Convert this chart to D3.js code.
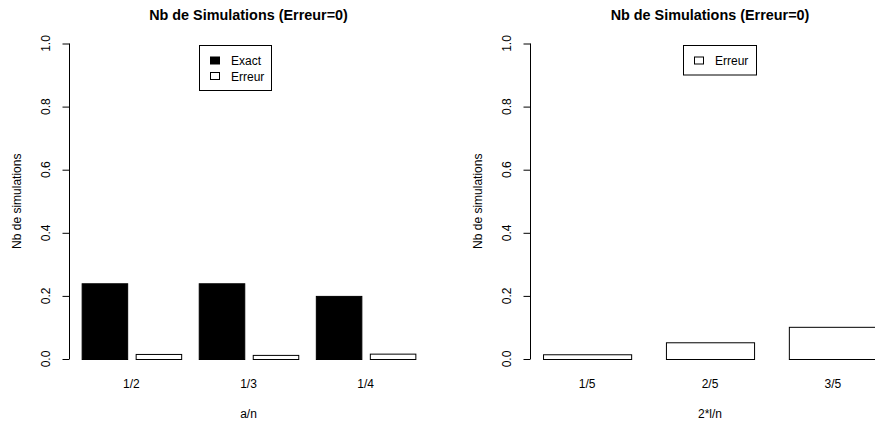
<!DOCTYPE html>
<html>
<head>
<meta charset="utf-8">
<script src="https://cdn.jsdelivr.net/npm/d3@7"></script>
<style>
    body { margin: 0; background: #fff; }
    svg { display: block; font-family: "Liberation Sans", Arial, sans-serif; }
    .bar { stroke: #000; stroke-width: 1; }
</style>
</head>
<body>
<svg width="875" height="421"></svg>
<script>
"use strict";

// left panel: a/n
var groupsA = ["1/2", "1/3", "1/4"];
var seriesA = ["Exact", "Erreur"];
var exactA = [0.24, 0.24, 0.20];
var erreurA = [0.016, 0.013, 0.017];

// right panel: 2*l/n
var groupsL = ["1/5", "2/5", "3/5"];
var erreurL = [0.015, 0.053, 0.102];

var yTicks = [0, 0.2, 0.4, 0.6, 0.8, 1.0];
var title = "Nb de Simulations (Erreur=0)";
var yTitle = "Nb de simulations";

(function () {
    var svg = d3.select("svg");
    var plotTop = 43.5, plotBottom = 359; // px

    var yScale = d3.scaleLinear().domain([0, 1])
        .range([plotBottom, plotTop]);

    var drawFrame = function (g, left, right, xTitle) {
        var yAxis = d3.axisLeft(yScale)
            .tickValues(yTicks)
            .tickFormat(d3.format(".1f"))
            .tickSize(7)
            .tickPadding(0);
        var ag = g.append("g")
            .attr("transform", "translate(" + (left + 0.5) + ",0)")
            .call(yAxis);
        ag.select(".domain")
            .attr("d", "M0," + yScale(0) + "V" + yScale(1))
            .attr("stroke", "#000");
        ag.selectAll(".tick line").attr("stroke", "#000");
        ag.selectAll(".tick text").remove();

        // rotated tick labels, R style
        g.selectAll("text.ytick")
            .data(yTicks)
            .enter()
            .append("text")
            .attr("class", "ytick")
            .attr("transform", function (d) {
                return "translate(" + (left - 19) + "," + yScale(d) +
                        ") rotate(-90)";
            })
            .attr("text-anchor", "middle")
            .attr("font-size", 12)
            .text(d3.format(".1f"));

        g.append("text")
            .attr("transform", "translate(" + (left - 48) + "," +
                    ((plotTop + plotBottom) / 2) + ") rotate(-90)")
            .attr("text-anchor", "middle")
            .attr("font-size", 12)
            .text(yTitle);

        g.append("text")
            .attr("x", (left + right) / 2)
            .attr("y", 20)
            .attr("text-anchor", "middle")
            .attr("font-size", 14.4)
            .attr("font-weight", "bold")
            .text(title);

        g.append("text")
            .attr("x", (left + right) / 2)
            .attr("y", 417.5)
            .attr("text-anchor", "middle")
            .attr("font-size", 12)
            .text(xTitle);
    };

    var drawLabels = function (g, scale, cats, offset) {
        g.selectAll("text.xtick")
            .data(cats)
            .enter()
            .append("text")
            .attr("class", "xtick")
            .attr("x", function (d) {
                return scale(d) + offset;
            })
            .attr("y", 387.5)
            .attr("text-anchor", "middle")
            .attr("font-size", 12)
            .text(function (d) {
                return d;
            });
    };

    var drawLegend = function (g, x, y, w, names, fills) {
        g.append("rect")
            .attr("x", x + 0.5)
            .attr("y", y + 0.5)
            .attr("width", w)
            .attr("height", 15.5 * names.length + 14)
            .attr("fill", "#fff")
            .attr("stroke", "#000");
        names.forEach(function (n, i) {
            var cy = y + 15.5 + i * 15.5;
            g.append("rect")
                .attr("x", x + 11.5)
                .attr("y", cy - 3.5)
                .attr("width", 9)
                .attr("height", 7)
                .attr("fill", fills[i])
                .attr("stroke", "#000");
            g.append("text")
                .attr("x", x + 32)
                .attr("y", cy + 4.5)
                .attr("font-size", 12)
                .text(n);
        });
    };

    // ---- left panel
    var leftA = 69, rightA = 428;
    var gA = svg.append("g");
    drawFrame(gA, leftA, rightA, "a/n");

    var x0A = d3.scaleBand()
        .domain(groupsA)
        .range([leftA, rightA])
        .paddingInner(0.15)
        .paddingOuter(0.108);
    var x1A = d3.scaleBand()
        .domain(seriesA)
        .range([0, x0A.bandwidth()])
        .paddingInner(0.157);

    var rowsA = groupsA.map(function (g, i) {
        return {group: g, values: [exactA[i], erreurA[i]]};
    });

    gA.selectAll("g.grp")
        .data(rowsA)
        .enter()
        .append("g")
        .attr("class", "grp")
        .attr("transform", function (d) {
            return "translate(" + x0A(d.group) + ",0)";
        })
        .selectAll("rect")
        .data(function (d) {
            return d.values.map(function (v, i) {
                return {s: seriesA[i], v: v};
            });
        })
        .enter()
        .append("rect")
        .attr("class", "bar")
        .attr("x", function (d) {
            return x1A(d.s) + 0.5;
        })
        .attr("y", function (d) {
            return yScale(d.v) + 0.5;
        })
        .attr("width", x1A.bandwidth())
        .attr("height", function (d) {
            return yScale(0) - yScale(d.v);
        })
        .attr("fill", function (d) {
            return d.s === "Exact" ? "#000" : "#fff";
        });

    drawLabels(gA, x0A, groupsA, x0A.bandwidth() / 2);
    drawLegend(gA, 199, 45, 72, seriesA, ["#000", "#fff"]);

    // ---- right panel
    var leftL = 530, rightL = 890;
    var gL = svg.append("g");
    drawFrame(gL, leftL, rightL, "2*l/n");

    var xL = d3.scaleBand()
        .domain(groupsL)
        .range([leftL, rightL])
        .paddingInner(0.283)
        .paddingOuter(0.106);

    gL.selectAll("rect.bar")
        .data(erreurL)
        .enter()
        .append("rect")
        .attr("class", "bar")
        .attr("x", function (ignore, i) {
            return xL(groupsL[i]) + 0.5;
        })
        .attr("y", function (d) {
            return yScale(d) + 0.5;
        })
        .attr("width", xL.bandwidth())
        .attr("height", function (d) {
            return yScale(0) - yScale(d);
        })
        .attr("fill", "#fff");

    drawLabels(gL, xL, groupsL, xL.bandwidth() / 2);
    drawLegend(gL, 683, 45, 73, ["Erreur"], ["#fff"]);
}());
</script>
</body>
</html>
